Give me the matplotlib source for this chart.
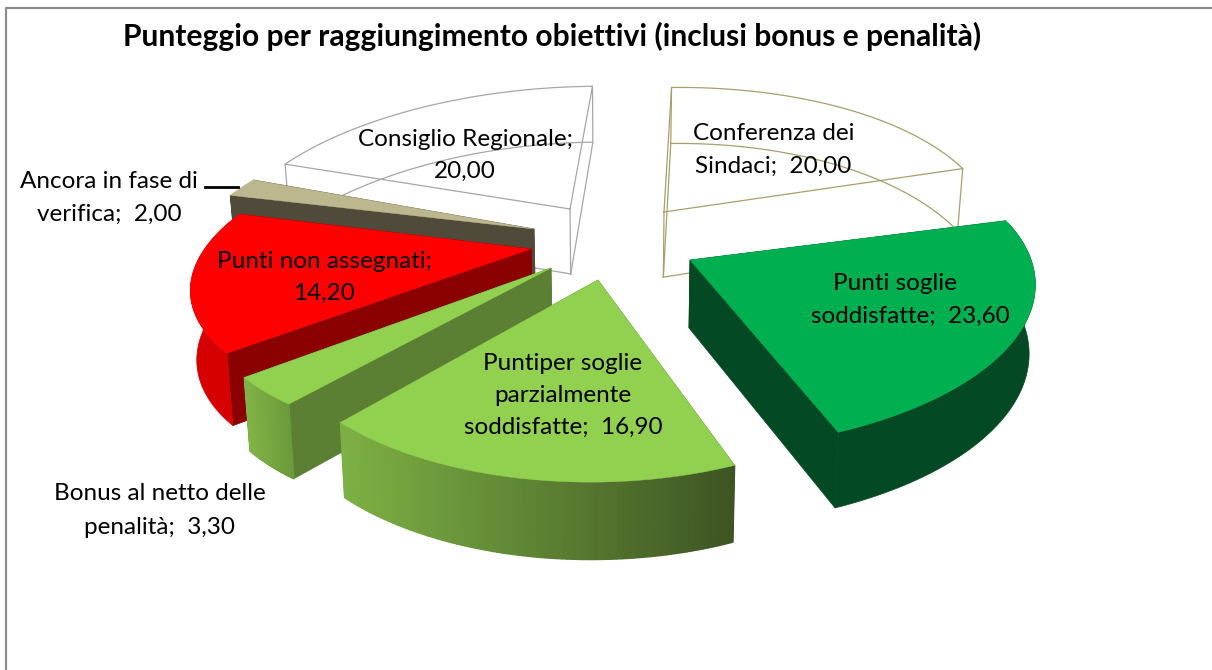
import numpy as np
import matplotlib
matplotlib.use('Agg')
import matplotlib.pyplot as plt
from matplotlib.colors import to_rgb
from matplotlib.collections import PolyCollection

# values, clockwise from the top
names = ['Conferenza dei Sindaci', 'Punti soglie soddisfatte', 'Puntiper soglie parzialmente soddisfatte',
         'Bonus al netto delle penalità', 'Punti non assegnati', 'Ancora in fase di verifica', 'Consiglio Regionale']
values = [20.00, 23.60, 16.90, 3.30, 14.20, 2.00, 20.00]

# apex of each slice on the image (explosion) and small fixes for the perspective
apex_x = [664, 690, 598, 551, 531, 534, 570]
apex_y = [212, 260, 280, 268, 249, 229, 209]
radius_x = [1.02, 1.0, 0.93, 0.96, 0.97, 1.03, 1.04]
radius_y = [1.09, 1.0, 1.0, 0.92, 0.92, 1.0, 1.08]
shear = [0, 0, -0.075, 0, 0, 0, 0]
turn_start = [0, 4, -1, 0, 0, 5, 2.5]
turn_end = [1.5, 1.5, 1, 0, 6, 5, 0]

top_colors = ['white', '#00B050', '#92D050', '#92D050', '#FF0000', '#BDB78F', 'white']
wall_colors = ['white', '#034A24', '#5B8034', '#5B8034', '#8B0000', '#4F4A3A', 'white']
arc_left = ['white', '#034A24', '#7DB144', '#80B347', '#D60000', '#4F4A3A', 'white']
arc_right = ['white', '#034A24', '#3E5523', '#6B9A3A', '#D60000', '#4F4A3A', 'white']
line_colors = ['#A89F6B', None, None, None, None, None, '#A6A6A6']

label_lines = [['Conferenza dei', 'Sindaci;  20,00'], ['Punti soglie', 'soddisfatte;  23,60'],
               ['Puntiper soglie', 'parzialmente', 'soddisfatte;  16,90'], ['Bonus al netto delle', 'penalità;  3,30'],
               ['Punti non assegnati;', '14,20'], ['Ancora in fase di', 'verifica;  2,00'],
               ['Consiglio Regionale;', '20,00']]
label_x = [[774, 773], [895, 910], [563, 563, 563], [160, 160], [324, 324], [109, 109], [465, 465]]
label_y = [[133, 166], [284, 316], [363, 395, 427], [494, 527], [261, 293], [181, 214], [139, 171]]

start_angle = -1.5
x0, y0, A, B, k = 754, 300, 358, 170, 0.2
depth = 70


def project(px, py, theta, rx, ry, sh=0):
    u = y0 - py
    Ya = u / (B - k * u)
    Xa = (px - x0) * (1 + k * Ya) / A
    X = Xa + rx * np.sin(theta)
    Y = Ya + ry * np.cos(theta) + sh * np.sin(theta)
    w = 1 + k * Y
    return x0 + A * X / w, y0 - B * Y / w, w


def drop(sx, sy, w):
    # same point on the lower face of the slice
    return x0 + (sx - x0) * 0.985 - 2, sy + depth * (1 - 0.6 * (w - 1))


def mix(c1, c2, t):
    c1, c2 = np.array(to_rgb(c1)), np.array(to_rgb(c2))
    return tuple(c1 + (c2 - c1) * t)


fig = plt.figure(figsize=(12.12, 6.7), dpi=100)
ax = fig.add_axes([0, 0, 1, 1])
ax.set_xlim(0, 1212)
ax.set_ylim(670, 0)
ax.axis('off')
plt.rcParams['font.family'] = ['Lato', 'DejaVu Sans']

# chart frame
ax.plot([6, 6, 1212], [670, 8, 8], color='#8C8C8C', lw=1.6, zorder=1)

edges = np.cumsum([0] + values) / sum(values) * 2 * np.pi + np.radians(start_angle)
order = [0, 6, 5, 4, 3, 2, 1]
for z, i in enumerate(order):
    th = np.linspace(edges[i] + np.radians(turn_start[i]), edges[i + 1] + np.radians(turn_end[i]), 80)
    ox, oy, ow = project(apex_x[i], apex_y[i], th, radius_x[i], radius_y[i], shear[i])
    cx, cy, cw = project(apex_x[i], apex_y[i], 0.0, 0, 0)
    bx, by = drop(ox, oy, ow)
    bcx, bcy = drop(cx, cy, cw)
    zo = 2 + z

    if line_colors[i]:
        # outline only slices
        c = line_colors[i]
        lw = 0.9
        ax.plot(np.r_[cx, ox, cx], np.r_[cy, oy, cy], color=c, lw=lw, zorder=zo)
        ax.plot(np.r_[bcx, bx, bcx], np.r_[bcy, by, bcy], color=c, lw=lw, zorder=zo)
        ax.plot([cx, bcx], [cy, bcy], color=c, lw=lw, zorder=zo)
        ax.plot([ox[0], bx[0]], [oy[0], by[0]], color=c, lw=lw, zorder=zo)
        ax.plot([ox[-1], bx[-1]], [oy[-1], by[-1]], color=c, lw=lw, zorder=zo)
        continue

    # radial walls
    for j in (0, -1):
        ax.fill([cx, ox[j], bx[j], bcx], [cy, oy[j], by[j], bcy], color=wall_colors[i], lw=0.5, zorder=zo)
    # rounded wall, shaded from left to right
    front = np.cos(th) < 0.25
    if arc_left[i] == arc_right[i]:
        ax.fill(np.r_[ox[front], bx[front][::-1]], np.r_[oy[front], by[front][::-1]], color=arc_left[i], lw=0.5, zorder=zo)
    else:
        quads, cols = [], []
        for j in range(len(th) - 1):
            if front[j]:
                quads.append([(ox[j], oy[j]), (ox[j + 1], oy[j + 1]), (bx[j + 1], by[j + 1]), (bx[j], by[j])])
                t = (ox[j] - ox.min()) / (ox.max() - ox.min())
                cols.append(mix(arc_left[i], arc_right[i], t))
        ax.add_collection(PolyCollection(quads, facecolors=cols, edgecolors=cols, linewidths=1.0, zorder=zo))
    ax.fill(np.r_[cx, ox], np.r_[cy, oy], color=top_colors[i], lw=0.3, zorder=zo)

# leader line
ax.plot([205, 238], [187, 187], color='black', lw=2, zorder=20)

ax.text(552, 36, 'Punteggio per raggiungimento obiettivi (inclusi bonus e penalità)', ha='center', va='center',
        fontsize=21.6, fontweight='bold', color='black', zorder=21)
for i in range(len(names)):
    for line, tx, ty in zip(label_lines[i], label_x[i], label_y[i]):
        ax.text(tx, ty, line, ha='center', va='center', fontsize=17.5, color='black', zorder=21)

fig.savefig('out.png', dpi=100)
